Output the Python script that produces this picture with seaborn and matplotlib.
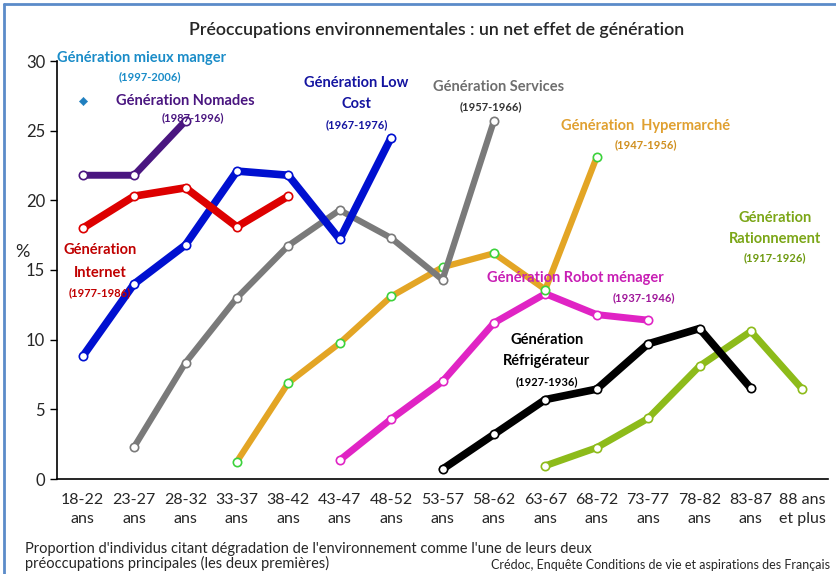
import numpy as np
import pandas as pd
import matplotlib
matplotlib.use('Agg')
import matplotlib.pyplot as plt
import seaborn as sns

# Catégories d'âge (axe x)
ages = ['18-22\nans', '23-27\nans', '28-32\nans', '33-37\nans', '38-42\nans',
        '43-47\nans', '48-52\nans', '53-57\nans', '58-62\nans', '63-67\nans',
        '68-72\nans', '73-77\nans', '78-82\nans', '83-87\nans', '88 ans\net plus']

# Valeurs par génération (index de départ sur l'axe x, valeurs en %)
mieux_manger_start = 0
mieux_manger = [27.1]
nomades_start = 0
nomades = [21.8, 21.8, 25.7]
internet_start = 0
internet = [18.0, 20.3, 20.9, 18.1, 20.3]
low_cost_start = 0
low_cost = [8.8, 14.0, 16.8, 22.1, 21.8, 17.2, 24.5]
services_start = 1
services = [2.3, 8.35, 13.0, 16.75, 19.3, 17.3, 14.3, 25.7]
hypermarche_start = 3
hypermarche = [1.25, 6.9, 9.75, 13.1, 15.2, 16.2, 13.6, 23.1]
robot_start = 5
robot = [1.35, 4.3, 7.0, 11.2, 13.3, 11.8, 11.4]
refrigerateur_start = 7
refrigerateur = [0.7, 3.2, 5.7, 6.45, 9.7, 10.8, 6.5]
rationnement_start = 9
rationnement = [0.95, 2.25, 4.35, 8.1, 10.6, 6.45]

sns.set_style('white')
plt.rcParams['font.family'] = ['Lato', 'DejaVu Sans']

fig = plt.figure(figsize=(8.36, 5.74), dpi=100)
ax = fig.add_axes([57 / 836, 1 - 479 / 574, (828 - 57) / 836, (479 - 61) / 574])

# (nom, départ, valeurs, couleur ligne, bord marqueur, épaisseur)
series = [
    ('Rationnement', rationnement_start, rationnement, '#8DBB1A', '#8DBB1A', 5.0),
    ('Réfrigérateur', refrigerateur_start, refrigerateur, '#000000', '#000000', 5.5),
    ('Robot ménager', robot_start, robot, '#E024C4', '#E024C4', 5.0),
    ('Hypermarché', hypermarche_start, hypermarche, '#E3A525', '#3CD23C', 4.5),
    ('Services', services_start, services, '#7A7A7A', '#7A7A7A', 4.5),
    ('Low Cost', low_cost_start, low_cost, '#0010D0', '#0010D0', 5.5),
    ('Internet', internet_start, internet, '#DD0000', '#DD0000', 5.5),
    ('Nomades', nomades_start, nomades, '#4A1680', '#4A1680', 5.0),
]

for name, start, vals, col, edge, lw in series:
    df = pd.DataFrame({'x': np.arange(start, start + len(vals)), 'y': vals})
    sns.lineplot(data=df, x='x', y='y', ax=ax, color=col, lw=lw,
                 marker='o', markersize=6, markerfacecolor='white',
                 markeredgecolor=edge, markeredgewidth=1.2, zorder=3)

df_mm = pd.DataFrame({'x': np.arange(mieux_manger_start, mieux_manger_start + len(mieux_manger)),
                      'y': mieux_manger})
sns.scatterplot(data=df_mm, x='x', y='y', ax=ax, marker='D', s=18, color='#1F7FBF',
                edgecolor='#1F7FBF', zorder=3)

ax.set_xlim(-0.5, 14.5)
ax.set_ylim(0, 30)
ax.set_yticks(np.arange(0, 31, 5))
ax.set_xticks(np.arange(len(ages)))
ax.set_xticklabels(ages, fontsize=11.5, linespacing=1.5)
ax.set_xticks(np.arange(-0.5, 15, 1), minor=True)
ax.tick_params(axis='x', which='major', length=0, pad=10)
ax.tick_params(axis='x', which='minor', length=5, width=1, direction='out', color='black')
ax.tick_params(axis='y', length=5, width=1, direction='out', color='black', labelsize=12, left=True)
ax.set_xlabel('')
ax.set_ylabel('')
for s in ['top', 'right']:
    ax.spines[s].set_visible(False)
for s in ['left', 'bottom']:
    ax.spines[s].set_color('black')
    ax.spines[s].set_linewidth(1.2)

# Étiquettes des générations
def lab(x, y, txt, col, size=10.5, weight='bold'):
    ax.text(x, y, txt, color=col, fontsize=size, fontweight=weight,
            ha='center', va='center', zorder=5, clip_on=False)

lab(1.15, 30.2, 'Génération mieux manger', '#1A8CC8')
lab(1.31, 28.9, '(1997-2006)', '#1A8CC8', 8)
lab(2.0, 27.1, 'Génération Nomades', '#4A1680')
lab(2.15, 25.9, '(1987-1996)', '#4A1680', 8)
lab(5.33, 28.4, 'Génération Low', '#1414A0')
lab(5.33, 26.9, 'Cost', '#1414A0')
lab(5.33, 25.4, '(1967-1976)', '#1414A0', 8)
lab(8.1, 28.1, 'Génération Services', '#6E6E6E')
lab(7.95, 26.7, '(1957-1966)', '#333333', 8)
lab(10.95, 25.3, 'Génération  Hypermarché', '#E0A030')
lab(10.95, 24.0, '(1947-1956)', '#D09020', 8)
lab(13.47, 18.7, 'Génération', '#7BA617')
lab(13.47, 17.2, 'Rationnement', '#7BA617')
lab(13.47, 15.9, '(1917-1926)', '#6E9A10', 8)
lab(9.58, 14.4, 'Génération Robot ménager', '#C81EB4')
lab(10.92, 13.0, '(1937-1946)', '#A0189A', 8)
lab(9.03, 10.0, 'Génération', '#000000')
lab(9.03, 8.5, 'Réfrigérateur', '#000000')
lab(9.03, 7.0, '(1927-1936)', '#000000', 8)
lab(0.34, 16.4, 'Génération', '#C00000')
lab(0.34, 14.8, 'Internet', '#C00000')
lab(0.34, 13.35, '(1977-1986)', '#C00000', 8)

fig.text(22 / 836, 1 - 252 / 574, '%', fontsize=13, ha='center', va='center')
fig.text(437 / 836, 1 - 30 / 574, 'Préoccupations environnementales : un net effet de génération',
         fontsize=12.8, ha='center', va='center', fontweight='semibold')
fig.text(25 / 836, 1 - 549 / 574,
         "Proportion d'individus citant dégradation de l'environnement comme l'une de leurs deux",
         fontsize=10.5, ha='left', va='center')
fig.text(25 / 836, 1 - 563 / 574, 'préoccupations principales (les deux premières)',
         fontsize=10.5, ha='left', va='center')
fig.text(830 / 836, 1 - 565 / 574, 'Crédoc, Enquête Conditions de vie et aspirations des Français',
         fontsize=9, ha='right', va='center')

# Cadre bleu
fig.add_artist(plt.Line2D([4 / 836, 4 / 836], [0, 1 - 4 / 574], transform=fig.transFigure,
                          color='#5B8BC9', lw=2))
fig.add_artist(plt.Line2D([4 / 836, 1], [1 - 4 / 574, 1 - 4 / 574], transform=fig.transFigure,
                          color='#5B8BC9', lw=2))

fig.savefig('out.png', dpi=100)
